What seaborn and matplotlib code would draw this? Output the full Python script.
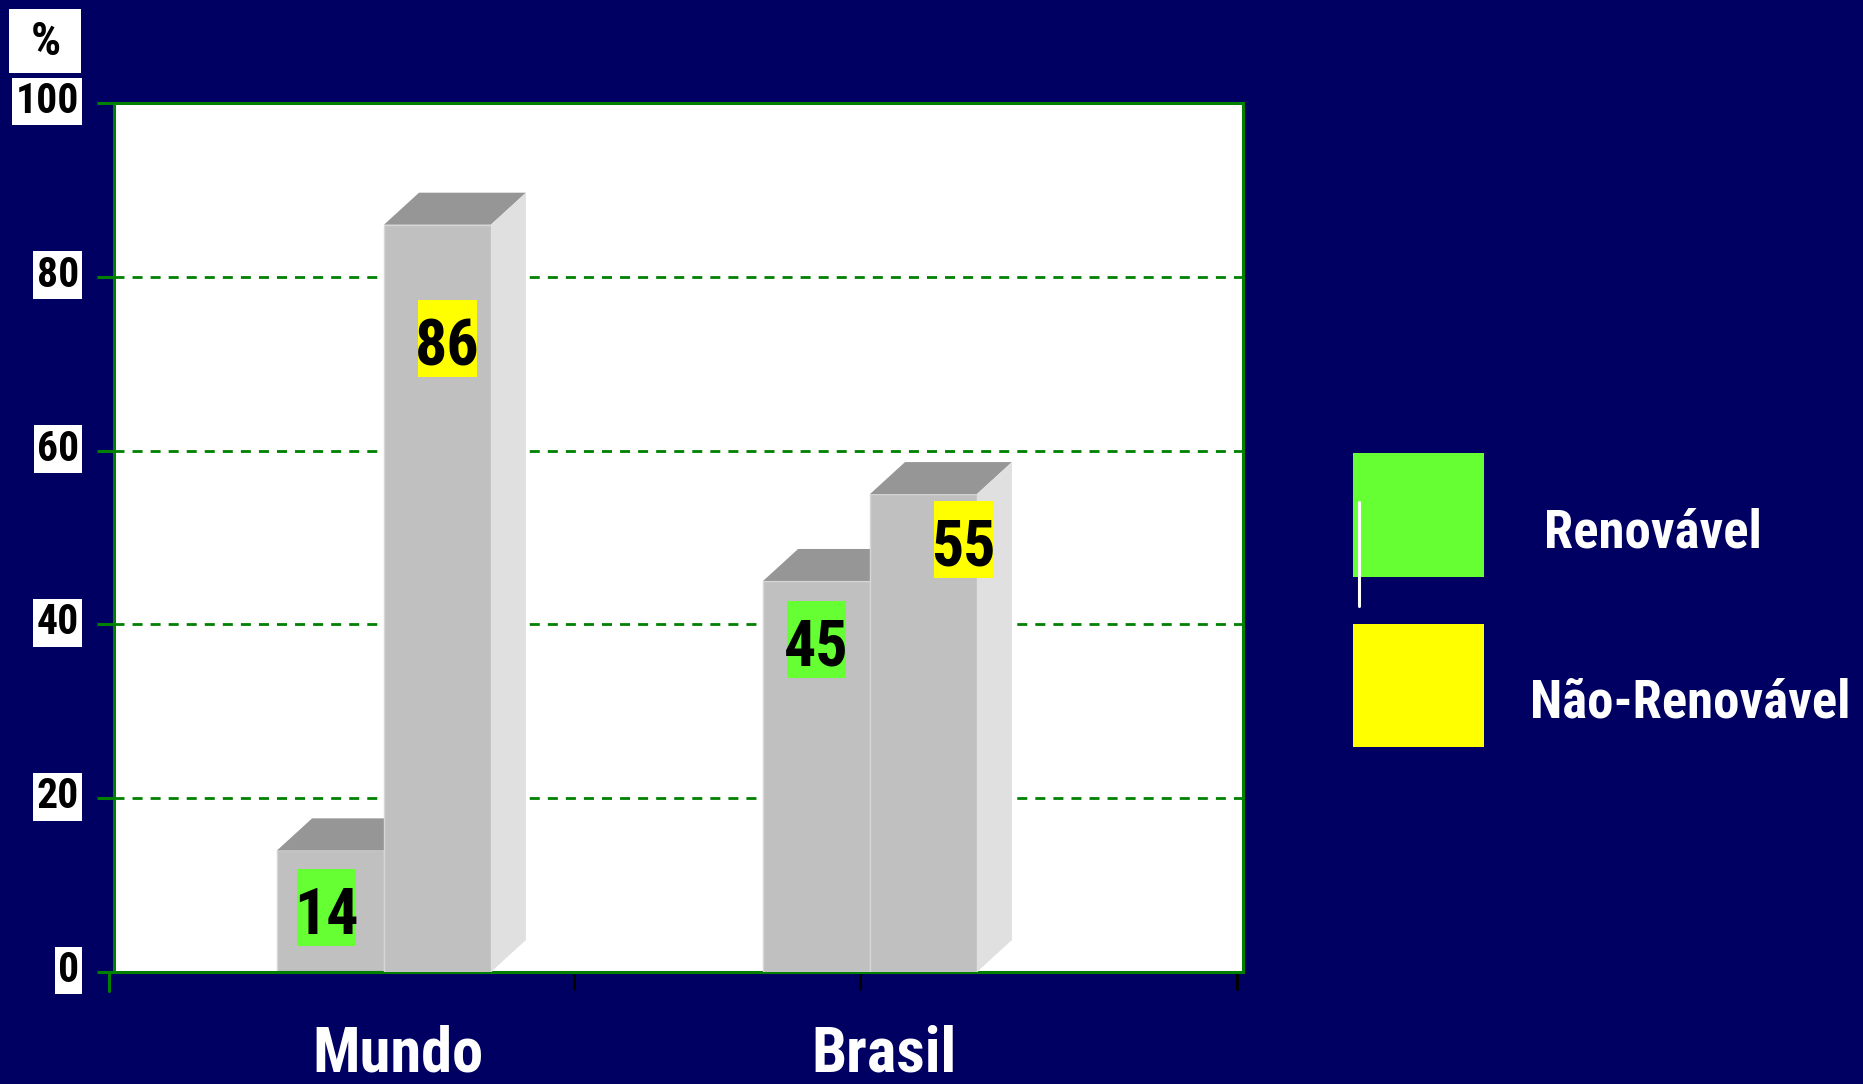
import matplotlib
matplotlib.use("Agg")
import numpy as np
import pandas as pd
import matplotlib.pyplot as plt
import seaborn as sns
from matplotlib.patches import Polygon, Rectangle
from matplotlib.lines import Line2D
from matplotlib.transforms import ScaledTranslation

# ---------------- data ----------------
regioes = ["Mundo", "Brasil"]
tipos = ["Renovável", "Não-Renovável"]
renovavel = [14, 45]
nao_renovavel = [86, 55]
y_ticks = [0, 20, 40, 60, 80, 100]
unidade = "%"

df = pd.DataFrame({
    "regiao": regioes * 2,
    "tipo": [tipos[0]] * len(regioes) + [tipos[1]] * len(regioes),
    "valor": renovavel + nao_renovavel,
})

# ---------------- style ----------------
BG = "#000062"
FRONT = "#C0C0C0"
TOP = "#969696"
SIDE = "#E0E0E0"
GREEN = "#66FF33"
YELLOW = "#FFFF00"
GRID = "#008000"
FONT = ["Roboto Condensed", "PT Sans Narrow", "DejaVu Sans"]

sns.set_style("white")
plt.rcParams["font.family"] = FONT
plt.rcParams["font.weight"] = "bold"

W, H = 1863, 1084
fig = plt.figure(figsize=(W / 100, H / 100), dpi=100, facecolor=BG)
ax = fig.add_axes([114 / W, 112 / H, 1129 / W, 869 / H])
ax.set_facecolor("white")

sns.barplot(data=df, x="regiao", y="valor", hue="tipo", order=regioes,
            hue_order=tipos, palette=[FRONT, FRONT], width=0.44, dodge=True,
            errorbar=None, legend=False, saturation=1, ax=ax,
            edgecolor="#D6D6D6", linewidth=1)

ax.set_xlim(-0.5556, 1.7675)
ax.set_ylim(0, 100)
ax.set_xlabel("")
ax.set_ylabel("")

# grid
ax.set_axisbelow(True)
ax.yaxis.grid(True, color=GRID, linestyle=(0, (3.6, 2.9)), linewidth=2)
ax.xaxis.grid(False)

# spines
for s in ax.spines.values():
    s.set_visible(True)
    s.set_color(GRID)
    s.set_linewidth(2.2)

# 3D bar faces
dx, dy = 0.072, 3.68
bars = sorted([b for c in ax.containers for b in c], key=lambda b: b.get_x())
label_dx = [-0.008, 0.02, 0.0, 0.082]
label_y = [7.4, 72.9, 38.3, 49.8]
label_col = [GREEN, YELLOW, GREEN, YELLOW]
bw, bh = 0.121, 8.86
for k, bar in enumerate(bars):
    x0 = bar.get_x(); w = bar.get_width(); h = bar.get_height(); x1 = x0 + w
    z = 2 + k * 4
    bar.set_zorder(z)
    ax.add_patch(Polygon([(x0, h), (x1, h), (x1 + dx, h + dy), (x0 + dx, h + dy)],
                         closed=True, fc=TOP, ec="none", zorder=z + 1))
    ax.add_patch(Polygon([(x1, 0), (x1, h), (x1 + dx, h + dy), (x1 + dx, dy)],
                         closed=True, fc=SIDE, ec="none", zorder=z + 1))
    cx = x0 + w / 2 + label_dx[k]
    cy = label_y[k]
    ax.add_patch(Rectangle((cx - bw / 2, cy - bh / 2), bw, bh, fc=label_col[k],
                           ec="none", zorder=z + 2))
    ax.text(cx, cy - 3.05, f"{int(round(h))}", ha="center", va="baseline",
            fontsize=46, color="black", fontweight="bold", zorder=z + 3)

# y ticks
ax.set_yticks(y_ticks)
ax.set_yticklabels([str(t) for t in y_ticks])
ax.tick_params(axis="y", which="major", left=True, length=12.2, width=2.2,
               color=GRID, labelsize=30, labelcolor="black", pad=13,
               direction="out")
yoff = ScaledTranslation(0, 6 / 100, fig.dpi_scale_trans)
for lab in ax.get_yticklabels():
    lab.set_fontweight("bold")
    lab.set_bbox(dict(boxstyle="square,pad=0.08", fc="white", ec="none"))
    lab.set_transform(lab.get_transform() + yoff)

# x ticks
ax.set_xticks([0, 1])
ax.set_xticklabels(regioes)
ax.tick_params(axis="x", which="major", bottom=True, length=0, pad=38,
               labelsize=45, labelcolor="white")
xoff = ScaledTranslation(14 / 100, 0, fig.dpi_scale_trans)
for lab in ax.get_xticklabels():
    lab.set_fontweight("bold")
    lab.set_transform(lab.get_transform() + xoff)
ax.set_xticks([0.391, 0.979, 1.755], minor=True)
ax.tick_params(axis="x", which="minor", bottom=True, length=13, width=2.2,
               color="black", direction="out")
fig.add_artist(Line2D([109 / W, 109 / W], [112 / H, 93 / H],
                      transform=fig.transFigure, color=GRID, lw=2.2))

# "%" unit box
fig.add_artist(Rectangle((9 / W, 1 - 73 / H), 72 / W, 64 / H,
                         transform=fig.transFigure, fc="white", ec="none"))
fig.text(45.5 / W, 1 - 55 / H, unidade, ha="center", va="baseline",
         fontsize=34, color="black", fontweight="bold")

# legend
fig.add_artist(Rectangle((1353 / W, 1 - 577 / H), 131 / W, 124 / H,
                         transform=fig.transFigure, fc=GREEN, ec="none"))
fig.add_artist(Rectangle((1353 / W, 1 - 747 / H), 131 / W, 123 / H,
                         transform=fig.transFigure, fc=YELLOW, ec="none"))
fig.add_artist(Line2D([1359 / W, 1359 / W], [1 - 502 / H, 1 - 606 / H],
                      transform=fig.transFigure, color="white", lw=2.2))
fig.text(1544 / W, 1 - 547 / H, tipos[0], ha="left", va="baseline",
         fontsize=38, color="white", fontweight="bold")
fig.text(1530 / W, 1 - 718 / H, tipos[1], ha="left", va="baseline",
         fontsize=38, color="white", fontweight="bold")

fig.savefig("out.png", dpi=100, facecolor=BG)
